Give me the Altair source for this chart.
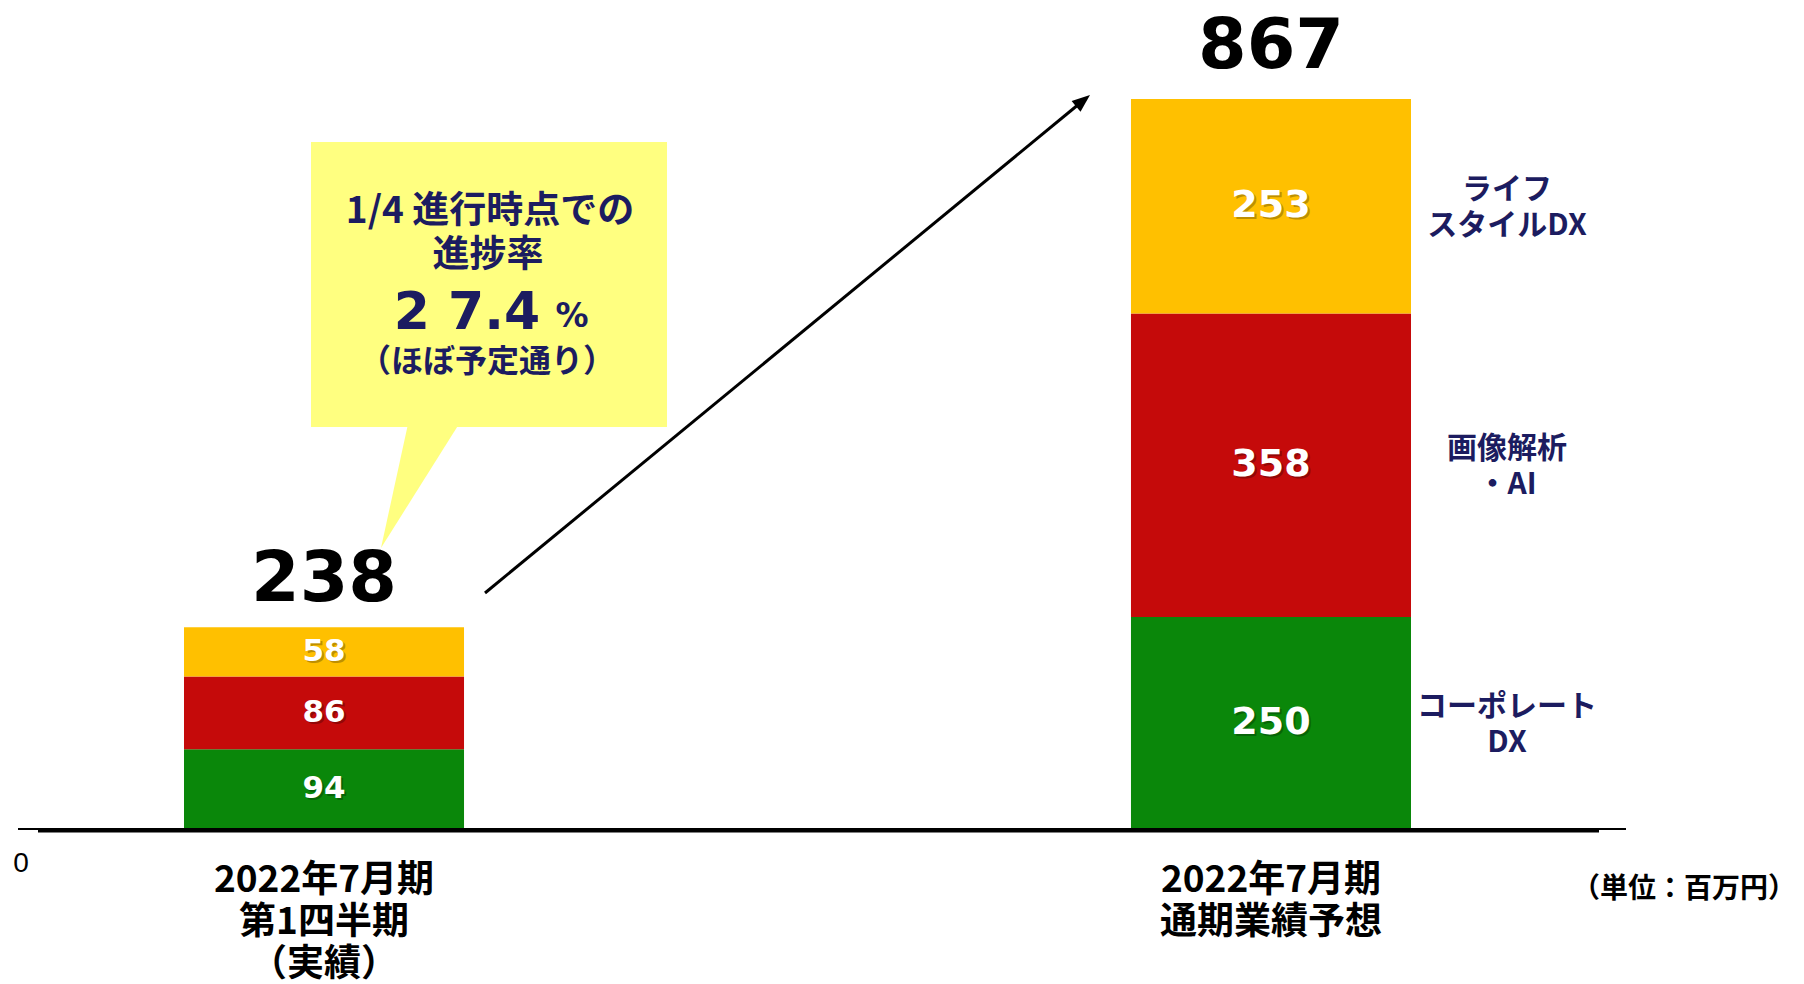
import altair as alt
import pandas as pd

# ---------------- data ----------------
periods = ["2022年7月期\n第1四半期\n（実績）", "2022年7月期\n通期業績予想"]
segments = ["コーポレートDX", "画像解析・AI", "ライフスタイルDX"]
segment_names = ["コーポレート\nDX", "画像解析\n・AI", "ライフ\nスタイルDX"]
q1_values = [94, 86, 58]
forecast_values = [250, 358, 253]
totals = [238, 867]
segment_colors = ["#0A870A", "#C50A0A", "#FFC000"]

callout_text = ["1/4 進行時点での", "進捗率", "2 7.4", "%", "（ほぼ予定通り）"]
unit_label = "（単位：百万円）"
zero_label = "0"

NAVY = "#1C1C60"
JP = "Noto Sans CJK JP"
NUM = "DejaVu Sans"

rows = []
for p, vals in zip(periods, [q1_values, forecast_values]):
    cum = 0
    for i, (s, n, v) in enumerate(zip(segments, segment_names, vals)):
        rows.append(dict(period=p, segment=s, name=n, value=v, order=i, mid=cum + v / 2))
        cum += v
df = pd.DataFrame(rows)
df_q1 = df[df.period == periods[0]]
df_fy = df[df.period == periods[1]]
tot = pd.DataFrame({"period": periods, "total": totals})
one = pd.DataFrame({"k": [0]})

x_scale = alt.Scale(domain=periods, range=[176, 1403], paddingInner=0.7043, paddingOuter=0)
y_scale = alt.Scale(domain=[0, 867], range=[821, 86], nice=False, zero=True)

X = alt.X("period:N", scale=x_scale, axis=None)

bars = alt.Chart(df).mark_bar(strokeWidth=0).encode(
    x=X,
    y=alt.Y("value:Q", stack="zero", scale=y_scale, axis=None),
    color=alt.Color("segment:N", scale=alt.Scale(domain=segments, range=segment_colors), legend=None),
    order=alt.Order("order:Q"),
)

def seg_labels(data, size):
    shadow = alt.Chart(data).mark_text(
        font=NUM, fontWeight="bold", fontSize=size, color="#000000", opacity=0.25,
        baseline="middle", dx=2, dy=2,
    ).encode(x=X, y=alt.Y("mid:Q", scale=y_scale, axis=None), text="value:Q")
    txt = alt.Chart(data).mark_text(
        font=NUM, fontWeight="bold", fontSize=size, color="white", baseline="middle",
    ).encode(x=X, y=alt.Y("mid:Q", scale=y_scale, axis=None), text="value:Q")
    return shadow + txt

labels_q1 = seg_labels(df_q1, 31)
labels_fy = seg_labels(df_fy, 38)

seg_names = alt.Chart(df_fy).mark_text(
    font=JP, fontWeight="bold", fontSize=30, lineHeight=36, lineBreak="\n",
    color=NAVY, baseline="middle", align="center", dx=236, dy=-16,
).encode(x=X, y=alt.Y("mid:Q", scale=y_scale, axis=None), text="name:N")

total_labels = alt.Chart(tot).mark_text(
    font=NUM, fontWeight="bold", fontSize=70, color="black", baseline="middle", dy=-47,
).encode(x=X, y=alt.Y("total:Q", scale=y_scale, axis=None), text="total:Q")

cat_labels = alt.Chart(tot).mark_text(
    font=JP, fontWeight="bold", fontSize=37, lineHeight=42, lineBreak="\n",
    color="black", baseline="top", align="center",
).encode(x=X, y=alt.value(855), text="period:N")

base1 = alt.Chart(one).mark_rule(color="black", strokeWidth=2).encode(
    x=alt.value(10), x2=alt.value(1618), y=alt.value(821))
base2 = alt.Chart(one).mark_rule(color="black", strokeWidth=3).encode(
    x=alt.value(30), x2=alt.value(1591), y=alt.value(823))

zero_txt = alt.Chart(one).mark_text(
    font="Liberation Sans", fontSize=28, color="black", baseline="middle", align="center",
    text=zero_label,
).encode(x=alt.value(13), y=alt.value(856))

unit_txt = alt.Chart(one).mark_text(
    font=JP, fontWeight="bold", fontSize=28, color="black", baseline="middle", align="center",
    text=unit_label,
).encode(x=alt.value(1676), y=alt.value(882))

# callout
callout_box = alt.Chart(one).mark_rect(color="#FFFF80").encode(
    x=alt.value(303), x2=alt.value(659), y=alt.value(134), y2=alt.value(419))
callout_tail = alt.Chart(one).mark_point(
    shape="M0,-3 L51,-3 L-27,121 Z", size=4, filled=True, color="#FFFF80", opacity=1, strokeWidth=0,
).encode(x=alt.value(400), y=alt.value(419))

def ctext(t, x, y, size, font=JP, baseline="middle"):
    return alt.Chart(one).mark_text(
        font=font, fontWeight="bold", fontSize=size, color=NAVY, baseline=baseline,
        align="center", text=t,
    ).encode(x=alt.value(x), y=alt.value(y))

c1 = ctext(callout_text[0], 482, 204, 37)
c2 = ctext(callout_text[1], 480, 248, 37)
c3 = ctext(callout_text[2], 459, 305, 52, font=NUM)
c4 = ctext(callout_text[3], 564, 319, 33, font=NUM, baseline="alphabetic")
c5 = ctext(callout_text[4], 479, 354, 32)

# arrow
arrow_line = alt.Chart(one).mark_rule(color="black", strokeWidth=3).encode(
    x=alt.value(477), y=alt.value(585), x2=alt.value(1071), y2=alt.value(96))
arrow_head = alt.Chart(one).mark_point(
    shape="M0,0 L-9.5,16.8 L-18.4,6.0 Z", size=4, filled=True, color="black", opacity=1, strokeWidth=0,
).encode(x=alt.value(1082), y=alt.value(87))

chart = alt.layer(
    bars, labels_q1, labels_fy, seg_names, total_labels, cat_labels,
    base1, base2, zero_txt, unit_txt,
    callout_box, callout_tail, c1, c2, c3, c4, c5,
    arrow_line, arrow_head,
).properties(
    width=1788, height=976, padding=0,
    autosize=alt.AutoSizeParams(type="none"),
).configure_view(stroke=None)

chart.save("out.html", embed_options={"renderer": "svg", "actions": False})
